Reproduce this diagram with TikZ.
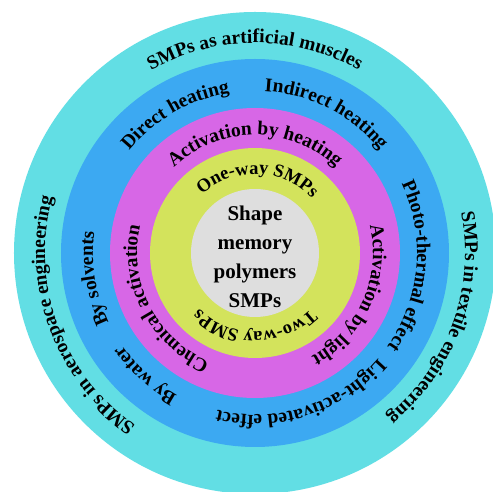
\documentclass[tikz,border=0pt]{standalone}
\usepackage{fontspec}
\setmainfont{Liberation Serif}
\usetikzlibrary{decorations.text}
\definecolor{ringcyan}{HTML}{62DEE4}
\definecolor{ringblue}{HTML}{3CA9F2}
\definecolor{ringmagenta}{HTML}{D767E6}
\definecolor{ringyellow}{HTML}{D3E35C}
\definecolor{ringgrey}{HTML}{DEDEDE}
\newcommand{\ringfont}{\bfseries\fontsize{19.5}{19.5}\selectfont}
\newcommand{\innerfont}{\bfseries\fontsize{18.5}{18.5}\selectfont}
\begin{document}
\begin{tikzpicture}
			[x=1pt,y=1pt,
			ringtext/.style={decorate,decoration={text along path,text align=center,text={|\ringfont|#1}}},
			innertext/.style={decorate,decoration={text along path,text align=center,text={|\innerfont|#1}}}]
			\clip (-255,-239) rectangle (238,253);
			% rings
			\fill[ringcyan] (0,0) circle[radius=241pt];
			\fill[ringblue] (0,0) circle[radius=194pt];
			\fill[ringmagenta] (0,0) circle[radius=145pt];
			\fill[ringyellow] (0,0) circle[radius=105pt];
			\fill[ringgrey] (0,0) circle[radius=64pt];
			\node[align=center,font=\bfseries\fontsize{21}{29}\selectfont] (core) at (0,-4)
			{Shape\\memory\\polymers\\SMPs};
			% outer ring
			\path[ringtext={SMPs as artificial muscles}] (170:210) arc[start angle=170,end angle=10,radius=210pt];
			\path[ringtext={SMPs in textile engineering}] (60:210) arc[start angle=60,end angle=-100,radius=210pt];
			\path[ringtext={SMPs in aerospace engineering}] (280:210) arc[start angle=280,end angle=120,radius=210pt];
			% blue ring
			\path[ringtext={Direct heating}] (180:162) arc[start angle=180,end angle=60,radius=162pt];
			\path[ringtext={Indirect heating}] (123:162) arc[start angle=123,end angle=3,radius=162pt];
			\path[ringtext={Photo-thermal effect}] (55:162) arc[start angle=55,end angle=-65,radius=162pt];
			\path[ringtext={Light-activated effect}] (-12:162) arc[start angle=-12,end angle=-132,radius=162pt];
			\path[ringtext={By water}] (288:162) arc[start angle=288,end angle=168,radius=162pt];
			\path[ringtext={By solvents}] (249:162) arc[start angle=249,end angle=129,radius=162pt];
			% magenta ring
			\path[ringtext={Activation by heating}] (160:118) arc[start angle=160,end angle=20,radius=118pt];
			\path[ringtext={Activation by light}] (46:118) arc[start angle=46,end angle=-94,radius=118pt];
			\path[ringtext={Chemical activation}] (277:118) arc[start angle=277,end angle=137,radius=118pt];
			% yellow ring
			\path[innertext={One-way SMPs}] (158:79) arc[start angle=158,end angle=18,radius=79pt];
			\path[innertext={Two-way SMPs}] (-20:79) arc[start angle=-20,end angle=-160,radius=79pt];
		\end{tikzpicture}
\end{document}
